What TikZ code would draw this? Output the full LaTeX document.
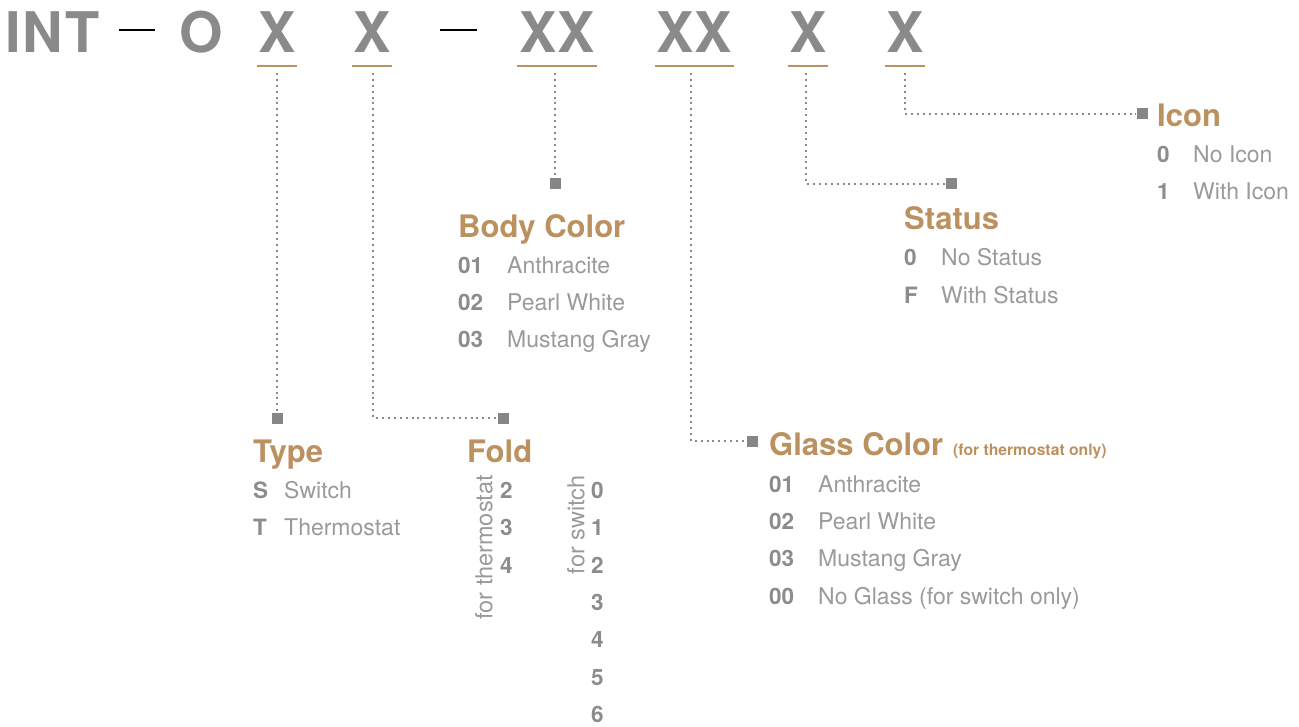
\documentclass[tikz,border=0pt]{standalone}
\usepackage{fontspec}
\setmainfont{TeX Gyre Heros}
\definecolor{titlegray}{HTML}{8A8A8A}
\definecolor{tan}{HTML}{BC9160}
\definecolor{codegray}{HTML}{8C8C8C}
\definecolor{descgray}{HTML}{9A9A9A}
\definecolor{dotgray}{HTML}{8A8A8A}
\definecolor{sqgray}{HTML}{868686}
\begin{document}
\begin{tikzpicture}[x=1pt,y=-1pt,
  titletxt/.style={font=\fontsize{56}{56}\selectfont\bfseries, text=titlegray, inner sep=0, anchor=base},
  head/.style={font=\fontsize{31}{31}\selectfont\bfseries, text=tan, inner sep=0, anchor=base west},
  code/.style={font=\fontsize{22.5}{22.5}\selectfont\bfseries, text=codegray, inner sep=0, anchor=base west},
  desc/.style={font=\fontsize{23}{23}\selectfont, text=descgray, inner sep=0, anchor=base west},
  vert/.style={font=\fontsize{23.5}{23.5}\selectfont, text=descgray, inner sep=0, rotate=90, anchor=east},
  sq/.style={fill=sqgray, minimum size=11pt, inner sep=0},
  dotline/.style={draw=dotgray, line width=2pt, dash pattern=on 2pt off 3.9pt},
  uline/.style={draw=tan, line width=2.5pt},
  dashbar/.style={inner sep=0, anchor=center}]
\useasboundingbox (0,0) rectangle (1299,727);
% title
\node[titletxt, anchor=base west] (int) at (5,53) {\addfontfeature{LetterSpace=4}INT};
\node[dashbar] (d1) at (137,30) {\rule{36pt}{2.8pt}};
\node[titletxt] (o) at (201,53) {O};
\node[titletxt] (x1) at (277,53) {X};
\node[titletxt] (x2) at (372,53) {X};
\node[dashbar] (d2) at (458,30) {\rule{37pt}{2.8pt}};
\node[titletxt] (xx1) at (557,53) {XX};
\node[titletxt] (xx2) at (694,53) {XX};
\node[titletxt] (x5) at (808,53) {X};
\node[titletxt] (x6) at (905,53) {X};
% underlines
\draw[uline] (257,66) -- (297,66);
\draw[uline] (352,66) -- (392,66);
\draw[uline] (517,66) -- (597,66);
\draw[uline] (655,66) -- (734,66);
\draw[uline] (788,66) -- (828,66);
\draw[uline] (885,66) -- (925,66);
% connector starts
\coordinate (c1) at (277,73);
\coordinate (c2) at (373,73);
\coordinate (c3) at (555,73);
\coordinate (c4) at (691,73);
\coordinate (c5) at (806,73);
\coordinate (c6) at (905,73);
% squares
\node[sq] (s1) at (277,418) {};
\node[sq] (s2) at (503,418) {};
\node[sq] (s3) at (555,184) {};
\node[sq] (s4) at (752,441) {};
\node[sq] (s5) at (951,184) {};
\node[sq] (s6) at (1142,114) {};
% connectors
\draw[dotline] (c1) -- (s1);
\draw[dotline] (c2) |- (s2);
\draw[dotline] (c3) -- (s3);
\draw[dotline] (c4) |- (s4);
\draw[dotline] (c5) |- (s5);
\draw[dotline] (c6) |- (s6);
% Icon
\node[head] (hicon) at (1157,127) {Icon};
\node[code] (i0) at (1157,163) {0};
\node[desc] (i0d) at (1193,163) {No Icon};
\node[code] (i1) at (1157,200) {1};
\node[desc] (i1d) at (1193,200) {With Icon};
% Status
\node[head] (hstat) at (904,230) {Status};
\node[code] (st0) at (904,266) {0};
\node[desc] (st0d) at (941,266) {No Status};
\node[code] (stf) at (904,304) {F};
\node[desc] (stfd) at (941,304) {With Status};
% Body Color
\node[head] (hbody) at (458,238) {Body Color};
\node[code] (b1) at (458,274) {01};
\node[desc] (b1d) at (507,274) {Anthracite};
\node[code] (b2) at (458,311) {02};
\node[desc] (b2d) at (507,311) {Pearl White};
\node[code] (b3) at (458,348) {03};
\node[desc] (b3d) at (507,348) {Mustang Gray};
% Type
\node[head] (htype) at (253,462) {Type};
\node[code] (ts) at (253,498) {S};
\node[desc] (tsd) at (284,498) {Switch};
\node[code] (tt) at (253,535) {T};
\node[desc] (ttd) at (284,535) {Thermostat};
% Fold
\node[head] (hfold) at (467,462) {Fold};
\node[vert] (fth) at (484,475) {for thermostat};
\node[vert] (fsw) at (576,475) {for switch};
\node[code] (ft2) at (500,498) {2};
\node[code] (ft3) at (500,535) {3};
\node[code] (ft4) at (500,573) {4};
\node[code] (fs0) at (591,498) {0};
\node[code] (fs1) at (591,535) {1};
\node[code] (fs2) at (591,573) {2};
\node[code] (fs3) at (591,610) {3};
\node[code] (fs4) at (591,647) {4};
\node[code] (fs5) at (591,685) {5};
\node[code] (fs6) at (591,722) {6};
% Glass Color
\node[head] (hglass) at (769,455) {Glass Color\hspace{10pt}{\fontsize{15.7}{16}\selectfont (for thermostat only)}};
\node[code] (g1) at (769,492) {01};
\node[desc] (g1d) at (818,492) {Anthracite};
\node[code] (g2) at (769,529) {02};
\node[desc] (g2d) at (818,529) {Pearl White};
\node[code] (g3) at (769,566) {03};
\node[desc] (g3d) at (818,566) {Mustang Gray};
\node[code] (g0) at (769,604) {00};
\node[desc] (g0d) at (818,604) {No Glass (for switch only)};
\end{tikzpicture}
\end{document}
